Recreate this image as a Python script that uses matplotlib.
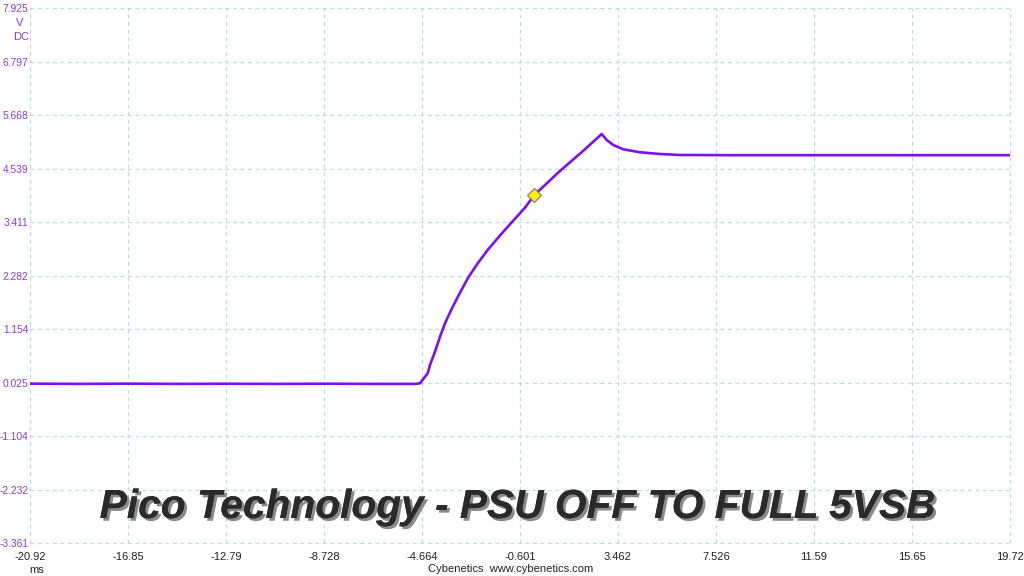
import matplotlib
matplotlib.use("Agg")
import matplotlib.pyplot as plt
import matplotlib.patheffects as pe

# ---- data ----
time_ms = [-20.92, -18.9, -16.85, -14.8, -12.79, -10.7, -8.728, -6.7, -4.954, -4.747,
           -4.428, -4.333, -4.126, -3.918, -3.711, -3.433, -3.159, -2.744, -2.329,
           -1.915, -1.359, -0.945, -0.393, -0.007, 1.059, 2.025, 2.788, 2.995, 3.269,
           3.684, 4.376, 5.205, 6.035, 8.0, 11.59, 15.65, 19.72]
volts = [0.005, 0.0, 0.005, 0.0, 0.003, 0.0, 0.004, 0.0, 0.0, 0.012,
         0.223, 0.398, 0.678, 0.995, 1.277, 1.580, 1.855, 2.245, 2.560,
         2.840, 3.170, 3.405, 3.715, 3.982, 4.490, 4.915, 5.268, 5.142, 5.036,
         4.946, 4.883, 4.847, 4.826, 4.822, 4.822, 4.822, 4.822]
marker_t = [-0.007]
marker_v = [3.982]

x_ticks = [-20.92, -16.85, -12.79, -8.728, -4.664, -0.601, 3.462, 7.526, 11.59, 15.65, 19.72]
x_labels = ["-20.92", "-16.85", "-12.79", "-8.728", "-4.664", "-0.601", "3.462", "7.526", "11.59", "15.65", "19.72"]
y_ticks = [7.925, 6.797, 5.668, 4.539, 3.411, 2.282, 1.154, 0.025, -1.104, -2.232, -3.361]
y_labels = ["7.925", "6.797", "5.668", "4.539", "3.411", "2.282", "1.154", "0.025", "-1.104", "-2.232", "-3.361"]

title = "Pico Technology - PSU OFF TO FULL 5VSB"

# ---- style ----
trace_color = "#7f0ff0"
label_purple = "#8c3ad8"
grid_color = "#b4e0e0"
small_font = "Liberation Sans"

fig = plt.figure(figsize=(10.24, 5.76), dpi=100)
ax = fig.add_axes([30 / 1024, 1 - 543.3 / 576, 980 / 1024, 535.3 / 576])

ax.plot(time_ms, volts, color=trace_color, lw=1.9, solid_joinstyle="round", zorder=3)
ax.plot(marker_t, marker_v, marker="D", ms=7, mfc="#ffee00", mec="#777777", mew=0.8,
        ls="none", zorder=4)

ax.set_xlim(x_ticks[0], x_ticks[-1])
ax.set_ylim(y_ticks[-1], y_ticks[0])
ax.set_xticks(x_ticks)
ax.set_xticklabels(x_labels, family=small_font, fontsize=8)
ax.set_yticks(y_ticks)
ax.set_yticklabels(y_labels, family=small_font, fontsize=7.4)
ax.tick_params(axis="both", length=0)
ax.tick_params(axis="y", pad=1, labelcolor=label_purple)
ax.tick_params(axis="x", pad=6, labelcolor="#222222")
for s in ax.spines.values():
    s.set_visible(False)
ax.grid(True, color=grid_color, lw=0.9, ls=(0, (3, 3)))
for gl in ax.get_xgridlines() + ax.get_ygridlines():
    gl.set_clip_on(False)
ax.set_axisbelow(True)

fig.text(19.5 / 1024, 1 - 23 / 576, "V", color=label_purple, fontsize=8, family=small_font,
         ha="center", va="center")
fig.text(21.5 / 1024, 1 - 37 / 576, "DC", color=label_purple, fontsize=8, family=small_font,
         ha="center", va="center")
fig.text(37 / 1024, 1 - 570 / 576, "ms", color="#222222", fontsize=8, family=small_font,
         ha="center", va="center")
fig.text(511 / 1024, 1 - 569 / 576, "Cybenetics  www.cybenetics.com", color="#222222",
         fontsize=8, family=small_font, ha="center", va="center")

fig.text(518 / 1024, 1 - 507 / 576, title, fontsize=29.3, fontweight="bold", fontstyle="italic",
         family="Liberation Sans", color="#2a2a2a", ha="center", va="center",
         path_effects=[pe.withSimplePatchShadow(offset=(2, -2), shadow_rgbFace="#8a8a8a", alpha=1.0),
                       pe.Normal()])

fig.savefig("out.png", dpi=100)
